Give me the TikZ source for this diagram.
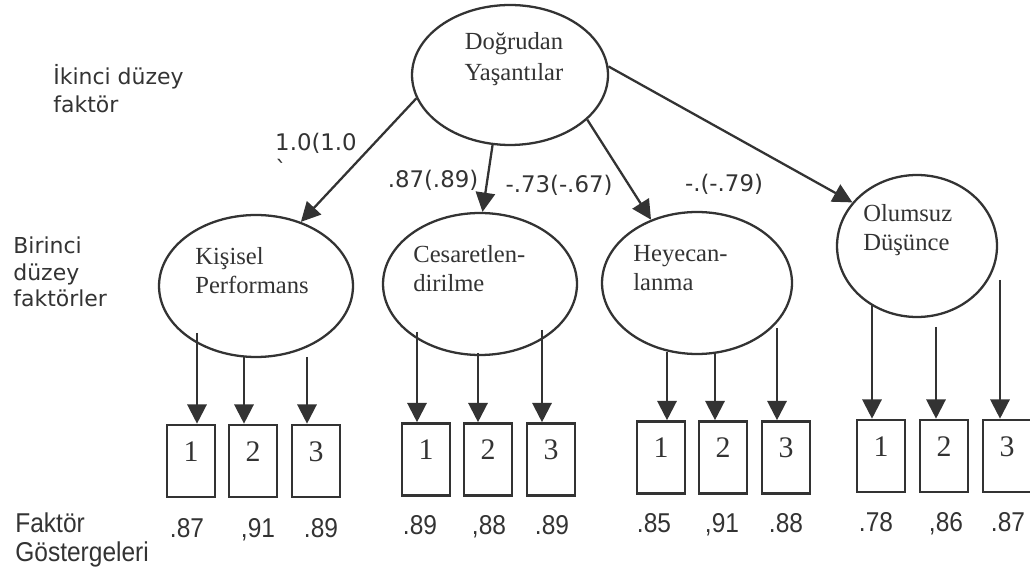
\documentclass[tikz,border=0pt]{standalone}
\usepackage{fontspec}
\setmainfont{Liberation Serif}
\newfontfamily\labelfont{DejaVu Sans}
\newfontfamily\valfont[FakeStretch=0.9]{Liberation Sans}
\usetikzlibrary{arrows.meta,shapes.geometric}
\definecolor{ink}{gray}{0.2}
\tikzset{
  fac/.style={ellipse, draw=ink, line width=1.3pt, minimum width=3.88cm, minimum height=2.84cm, inner sep=0pt},
  ftext/.style={text=ink, align=left, inner sep=0pt, font=\fontsize{14}{16.5}\selectfont},
  ind/.style={draw=ink, line width=1.5pt, minimum width=0.96cm, minimum height=1.44cm, inner sep=0pt,
    text depth=11pt, text=ink, font=\fontsize{17}{18}\selectfont},
  load/.style={draw=ink, line width=1.3pt, -{Triangle[length=11pt,width=11pt]}},
  coef/.style={text=ink, inner sep=0pt, font=\labelfont\fontsize{13}{15}\selectfont},
  sidelabel/.style={text=ink, inner sep=0pt, align=left, anchor=west, font=\labelfont\fontsize{12.5}{15}\selectfont},
  val/.style={text=ink, inner sep=0pt, anchor=base, font=\valfont\fontsize{15.5}{16}\selectfont}
}

\begin{document}
\begin{tikzpicture}[x=0.02cm, y=-0.02cm]
	\useasboundingbox (0,0) rectangle (1030,580);
	% ikinci duzey
	\node[fac, minimum width=3.92cm, minimum height=2.8cm] (dy) at (510,75) {};
	\node[ftext, align=center, font=\fontsize{14}{18}\selectfont] (dyt) at (514,59) {Doğrudan\\Yaşantılar};

	% birinci duzey
	\node[fac] (kp) at (256,286) {};
	\node[ftext, anchor=west] (kpt) at (195,271) {Kişisel\\Performans};
	\node[fac] (ce) at (480,284) {};
	\node[ftext, anchor=west] (cet) at (413,269) {Cesaretlen-\\dirilme};
	\node[fac, minimum width=3.8cm] (he) at (697,283) {};
	\node[ftext, anchor=west] (het) at (633,268) {Heyecan-\\lanma};
	\node[fac, minimum width=3.2cm] (ol) at (917,246) {};
	\node[ftext, anchor=west] (olt) at (863,230) {Olumsuz\\Düşünce};

	\draw[load] (dy.194) -- (kp.55);
	\draw[load] (dy.256) -- (ce.88);
	\draw[load] (dy.-30) -- (he.126);
	\draw[load] (dy.5) -- (ol.146);

	\node[coef] (c1) at (316,143) {1.0(1.0};
	\node[coef] (c1b) at (281,168) {\textasciigrave};
	\node[coef] (c2) at (433,180) {.87(.89)};
	\node[coef] (c3) at (559,185) {-.73(-.67)};
	\node[coef] (c4) at (724,184) {-.(-.79)};

	% gostergeler
	\foreach \i/\bx/\ax/\ay/\vx/\v in {1/191/197/333/187/.87, 2/253/244/357/258/{,91}, 3/316/307/357/321/.89}{
		\node[ind] (kp\i) at (\bx,461) {\i};
		\coordinate (kps\i) at (\ax,\ay);
		\draw[load] (kps\i) -- (kps\i |- kp\i.north);
		\node[val] (kpv\i) at (\vx,537) {\v};
	}
	\foreach \i/\bx/\ax/\ay/\vx/\v in {1/426/417/332/420/.89, 2/488/478/353/489/{,88}, 3/551/542/330/552/.89}{
		\node[ind] (ce\i) at (\bx,459.5) {\i};
		\coordinate (ces\i) at (\ax,\ay);
		\draw[load] (ces\i) -- (ces\i |- ce\i.north);
		\node[val] (cev\i) at (\vx,534) {\v};
	}
	\foreach \i/\bx/\ax/\ay/\vx/\v in {1/661/667/352/654/.85, 2/723/715/352/722/{,91}, 3/786/777/328/786/.88}{
		\node[ind] (he\i) at (\bx,457.5) {\i};
		\coordinate (hes\i) at (\ax,\ay);
		\draw[load] (hes\i) -- (hes\i |- he\i.north);
		\node[val] (hev\i) at (\vx,532) {\v};
	}
	\foreach \i/\bx/\ax/\ay/\vx/\v in {1/881/872/304/876/.78, 2/944/936/327/946/{,86}, 3/1007/1000/280/1008/.87}{
		\node[ind] (ol\i) at (\bx,456) {\i};
		\coordinate (ols\i) at (\ax,\ay);
		\draw[load] (ols\i) -- (ols\i |- ol\i.north);
		\node[val] (olv\i) at (\vx,531) {\v};
	}

	% sol etiketler
	\node[sidelabel, font=\labelfont\fontsize{12.5}{16}\selectfont] (lv2) at (53,89) {İkinci düzey\\faktör};
	\node[sidelabel] (lv1) at (13,272) {Birinci\\düzey\\faktörler};
	\node[sidelabel, font=\valfont\fontsize{15.5}{16.5}\selectfont] (lv0) at (15,540) {Faktör\\Göstergeleri};
\end{tikzpicture}
\end{document}
